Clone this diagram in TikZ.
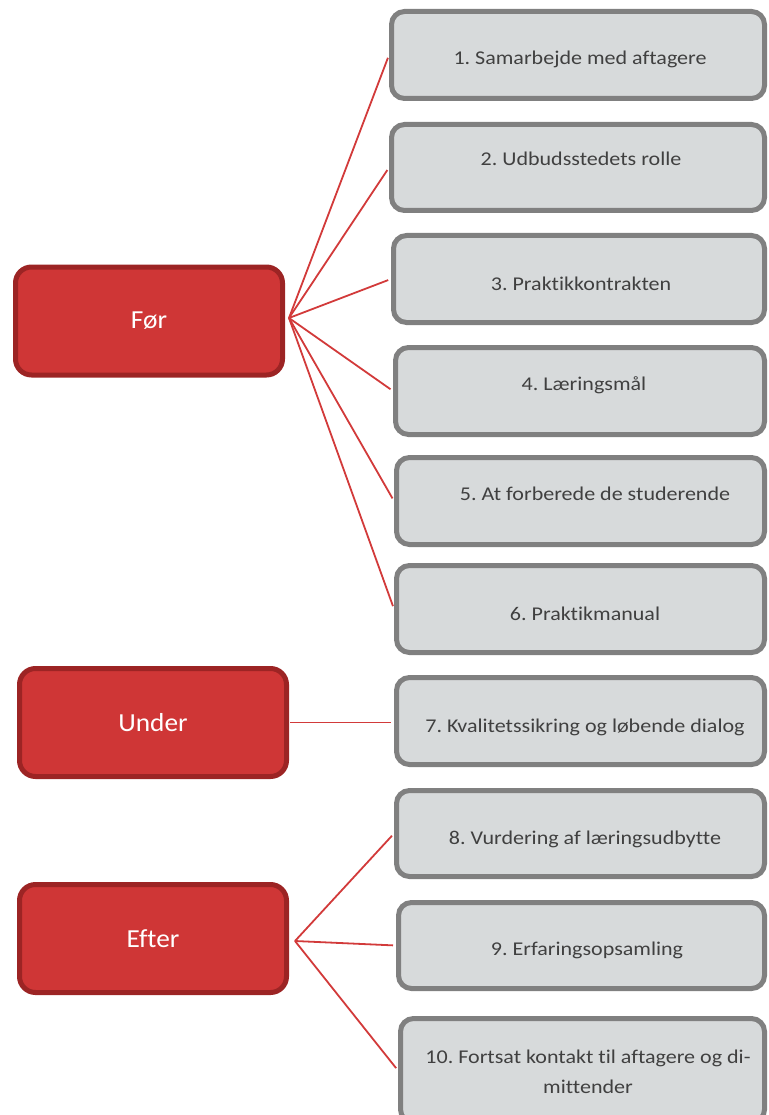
\documentclass[tikz,border=0pt]{standalone}
\usepackage{fontspec}
\setmainfont{Carlito}[Ligatures=NoCommon]
\newfontfamily\topicfam{Carlito}[FakeStretch=1.13,Ligatures=NoCommon]
\newfontfamily\phasefam{Carlito}[FakeStretch=1.05,Ligatures=NoCommon]
\usetikzlibrary{calc}
\definecolor{phasefill}{HTML}{CF3636}
\definecolor{phaseline}{HTML}{9C2424}
\definecolor{topicfill}{HTML}{D7DADB}
\definecolor{topicline}{HTML}{808080}
\definecolor{topicink}{HTML}{404040}
\definecolor{linkred}{HTML}{D23A3A}
\newcommand{\phasefont}{\phasefam\fontsize{26}{30}\selectfont}
\newcommand{\topicfont}{\topicfam\fontsize{19.5}{30.5}\selectfont\frenchspacing}
\tikzset{
  phasebox/.style={draw=phaseline,fill=phasefill,line width=5pt,rounded corners=16pt,
    minimum width=267pt,minimum height=108pt,inner sep=0,text=white,font=\phasefont},
  topicbox/.style={draw=topicline,fill=topicfill,line width=5pt,rounded corners=13pt,
    minimum height=87pt,inner sep=0},
  topictext/.style={anchor=base,inner sep=0,text=topicink,font=\topicfont,align=center},
  link/.style={linkred,line width=1.8pt,shorten >=3pt}
}

\begin{document}
\begin{tikzpicture}[x=1pt,y=-1pt]
\useasboundingbox (0,0) rectangle (768,1115);
\node[phasebox] (foer) at (149,321) {Før};
\node[phasebox] (under) at (153,722.5) {Under};
\node[phasebox] (efter) at (153,938.5) {Efter};
\node[topicbox,minimum width=373pt] (g1) at (578,55) {};
\node[topictext] (t1) at (580,65) {1. Samarbejde med aftagere};
\node[topicbox,minimum width=373pt,minimum height=86pt] (g2) at (578,167.5) {};
\node[topictext] (t2) at (581,166) {2. Udbudsstedets rolle};
\node[topicbox,minimum width=371pt] (g3) at (579,279) {};
\node[topictext] (t3) at (581,290) {3. Praktikkontrakten};
\node[topicbox,minimum width=369pt] (g4) at (580,391) {};
\node[topictext] (t4) at (584,390) {4. Læringsmål};
\node[topicbox,minimum width=368pt] (g5) at (580.5,501) {};
\node[topictext] (t5) at (595,500) {5. At forberede de studerende};
\node[topicbox,minimum width=368pt] (g6) at (580.5,609) {};
\node[topictext] (t6) at (585,620) {6. Praktikmanual};
\node[topicbox,minimum width=368pt] (g7) at (580.5,721) {};
\node[topictext] (t7) at (585,732) {7. Kvalitetssikring og løbende dialog};
\node[topicbox,minimum width=368pt,minimum height=86pt] (g8) at (580.5,833.5) {};
\node[topictext] (t8) at (585,844) {8. Vurdering af læringsudbytte};
\node[topicbox,minimum width=366pt,minimum height=86pt] (g9) at (581.5,945.5) {};
\node[topictext] (t9) at (587,955) {9. Erfaringsopsamling};
\node[topicbox,minimum width=364pt,minimum height=104pt] (g10) at (582.5,1070.5) {};
\node[topictext,anchor=center] (t10) at (588,1072) {10. Fortsat kontakt til aftagere og di-\\mittender};
\coordinate (foerhub) at (289,318);
\foreach \i in {1,...,6}
  \draw[link] (foerhub) -- (g\i.west);
\draw[link,shorten <=1pt] (under.east) -- (under.east -| g7.west);
\coordinate (efterhub) at (295,941);
\foreach \i in {8,9,10}
  \draw[link] (efterhub) -- (g\i.west);
\end{tikzpicture}
\end{document}
